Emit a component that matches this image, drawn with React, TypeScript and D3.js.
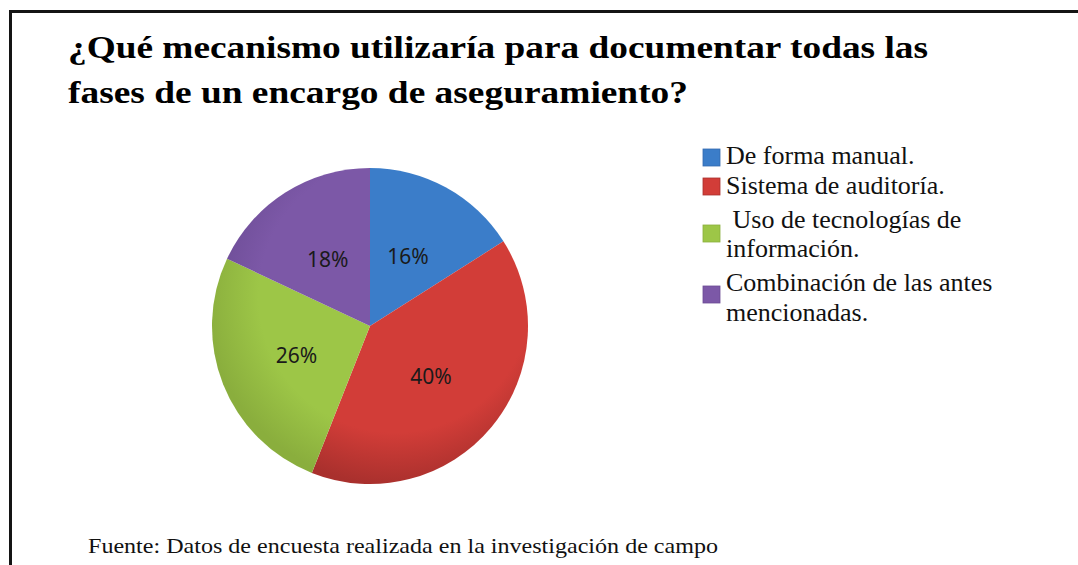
import React from 'react';
import * as d3 from 'd3';

const titleLines = [
    '¿Qué mecanismo utilizaría para documentar todas las',
    'fases de un encargo de aseguramiento?'
];
const categories = [
    ['De forma manual.'],
    ['Sistema de auditoría.'],
    ['\u00a0Uso de tecnologías de', 'información.'],
    ['Combinación de las antes', 'mencionadas.']
];
const values = [16, 40, 26, 18];
const colors = ['#3b7dc9', '#d23d38', '#9dc647', '#7c58a7'];
const edgeColors = ['#3469b0', '#a9302d', '#8aae3d', '#6c4c95'];
const source = 'Fuente: Datos de encuesta realizada en la investigación de campo';

const width = 1078, height = 565;
const cx = 370, cy = 326, radius = 158;
const serif = "'Liberation Serif', Tinos, 'Times New Roman', 'DejaVu Serif', serif";

export default function App() {
    const pie = d3.pie<number>().sort(null).value(d => d);
    const arcs = pie(values);
    const arc = d3.arc<d3.PieArcDatum<number>>().innerRadius(0).outerRadius(radius);
    const labelArc = d3.arc<d3.PieArcDatum<number>>().innerRadius(radius * 0.5).outerRadius(radius * 0.5);

    // legend rows: baselines of text lines, square top
    const legendLines = [[164], [194], [228, 257], [291, 321]];
    const squareTops = [149, 178, 225, 286];

    return (
        <svg width={width} height={height} style={{position: 'absolute', left: 0, top: 0, background: '#fff'}}>
            <defs>
                {colors.map((c, i) => (
                    <radialGradient key={i} id={'g' + i} gradientUnits="userSpaceOnUse"
                        cx={25} cy={-30} r={radius * 1.2}>
                        <stop offset="0%" stopColor={c}/>
                        <stop offset="72%" stopColor={c}/>
                        <stop offset="100%" stopColor={edgeColors[i]}/>
                    </radialGradient>
                ))}
            </defs>
            <path d={`M10.5,${height} V11.5 H${width}`} fill="none" stroke="#141414" strokeWidth={3}/>

            <g style={{fontFamily: serif}} fontWeight="bold" fontSize={31} fill="#000">
                <text x={68} y={58} textLength={860} lengthAdjust="spacingAndGlyphs">{titleLines[0]}</text>
                <text x={68} y={103} textLength={620} lengthAdjust="spacingAndGlyphs">{titleLines[1]}</text>
            </g>

            <g transform={`translate(${cx},${cy})`}>
                {arcs.map((a, i) => (
                    <path key={i} d={arc(a) || ''} fill={`url(#g${i})`}/>
                ))}
            </g>
            <g fontFamily="'Noto Sans', 'Open Sans', sans-serif" fontSize={21} fill="#1a1a1a" textAnchor="middle">
                {arcs.map((a, i) => {
                    const [x, y] = labelArc.centroid(a);
                    return (
                        <text key={i} x={cx + x} y={cy + y} dy="0.36em">{values[i]}%</text>
                    );
                })}
            </g>

            <g style={{fontFamily: serif}} fontSize={26} fill="#111">
                {categories.map((lines, i) => (
                    <g key={i}>
                        <rect x={703} y={squareTops[i]} width={17} height={17} fill={colors[i]} stroke={edgeColors[i]} strokeWidth={0.8}/>
                        {lines.map((t, j) => (
                            <text key={j} x={726} y={legendLines[i][j]}>{t}</text>
                        ))}
                    </g>
                ))}
            </g>

            <text x={88} y={553} style={{fontFamily: serif}} fontSize={22}
                fill="#111" textLength={630} lengthAdjust="spacingAndGlyphs">{source}</text>
        </svg>
    );
}
